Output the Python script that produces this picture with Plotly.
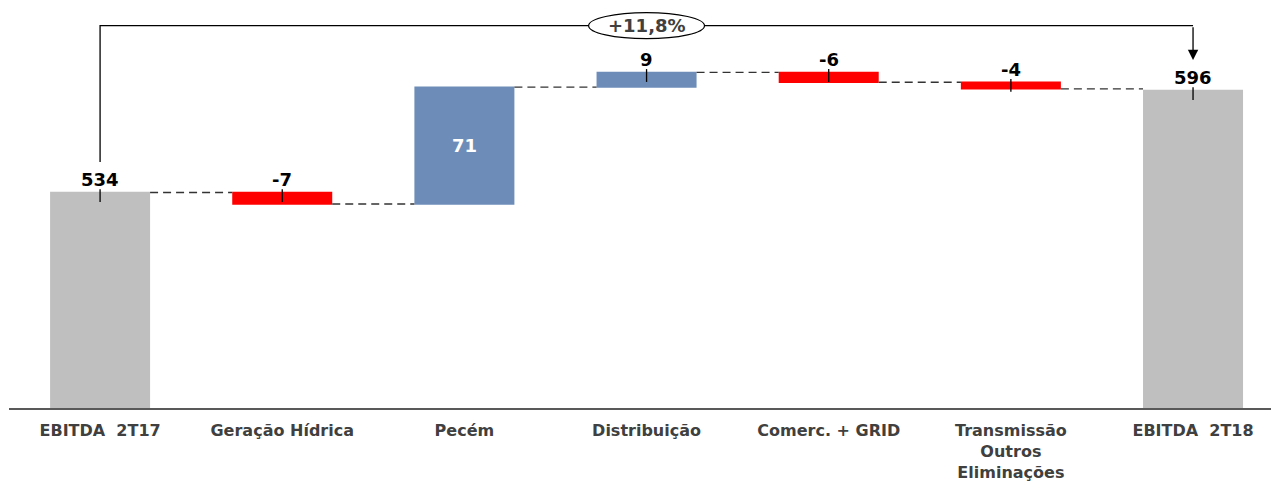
import numpy as np
import plotly.graph_objects as go

# EBITDA bridge 2T17 -> 2T18 (R$ milhões)
categories = ["EBITDA  2T17", "Geração Hídrica", "Pecém", "Distribuição",
              "Comerc. + GRID", "Transmissão<br>Outros<br>Eliminações", "EBITDA  2T18"]
values = [534, -7, 71, 9, -6, -4, 596]
measures = ["absolute", "relative", "relative", "relative", "relative", "relative", "absolute"]
labels = ["534", "-7", "71", "9", "-6", "-4", "596"]
growth_label = "+11,8%"

GRAY = "#BFBFBF"
BLUE = "#6D8DB8"
RED = "#FF0000"
TXT = "#404040"
FONT = "DejaVu Sans"

x = np.arange(len(categories))

# running totals: start / end level of each bar
ends, starts = [], []
level = 0.0
for v, m in zip(values, measures):
    if m == "absolute":
        starts.append(0.0)
        level = v
    else:
        starts.append(level)
        level = level + v
    ends.append(level)
tops = [max(s, e) if m == "relative" else e for s, e, m in zip(starts, ends, measures)]

fig = go.Figure()

fig.add_trace(go.Waterfall(
    x=x, y=values, measure=measures, width=0.549,
    increasing=dict(marker=dict(color=BLUE)),
    decreasing=dict(marker=dict(color=RED)),
    totals=dict(marker=dict(color=GRAY)),
    connector=dict(line=dict(color="#333333", width=1.3, dash="8px,5px")),
    text=None, hoverinfo="skip", showlegend=False,
))

# small leader ticks under each outside label
tick_idx = [i for i in range(len(values)) if i != 2]
fig.add_trace(go.Scatter(
    x=[x[i] for i in tick_idx], y=[tops[i] for i in tick_idx],
    mode="markers", marker=dict(size=1, opacity=0),
    error_y=dict(type="data", symmetric=False,
                 array=[2.0] * len(tick_idx), arrayminus=[5.8] * len(tick_idx),
                 width=0, color="#000000", thickness=1.3),
    hoverinfo="skip", showlegend=False,
))

annotations = []
for i in range(len(values)):
    if i == 2:
        annotations.append(dict(
            x=x[i], y=(starts[i] + ends[i]) / 2, text=labels[i], showarrow=False,
            font=dict(family=FONT, size=18, color="white", weight="bold"),
        ))
    else:
        annotations.append(dict(
            x=x[i], y=tops[i], text=labels[i], showarrow=False,
            yanchor="bottom", yshift=0,
            font=dict(family=FONT, size=18, color="black", weight="bold"),
        ))

# growth bracket from first to last total
bracket_y = 635.4
annotations.append(dict(
    x=x[-1], y=614.5, ax=x[-1], ay=bracket_y, axref="x", ayref="y",
    text="", showarrow=True, arrowhead=2, arrowsize=1.6, arrowwidth=1.3,
    arrowcolor="#000000", standoff=0,
))
annotations.append(dict(
    x=3, y=bracket_y, text=growth_label, showarrow=False,
    font=dict(family=FONT, size=18, color=TXT, weight="bold"),
))

shapes = [
    dict(type="path", xref="x", yref="y",
         path=f"M {x[0]},552.5 L {x[0]},{bracket_y} L {x[-1]},{bracket_y}",
         line=dict(color="#000000", width=1.3)),
    dict(type="circle", xref="x", yref="y",
         x0=3 - 0.318, x1=3 + 0.318, y0=bracket_y - 7.9, y1=bracket_y + 7.9,
         fillcolor="white", line=dict(color="#000000", width=1.2)),
]

fig.update_layout(
    width=1271, height=481,
    margin=dict(l=9, r=0, t=0, b=73),
    paper_bgcolor="white", plot_bgcolor="white",
    annotations=annotations, shapes=shapes,
    xaxis=dict(
        range=[-0.5, 6.428], tickvals=list(x), ticktext=categories,
        tickfont=dict(family=FONT, size=16, color=TXT, weight="bold"),
        showline=True, linecolor="#595959", linewidth=1.5,
        showgrid=False, zeroline=False, ticks="", ticklabelstandoff=7,
        automargin=False,
    ),
    yaxis=dict(range=[403, 651], visible=False, automargin=False),
)

fig.write_html("out.html")
